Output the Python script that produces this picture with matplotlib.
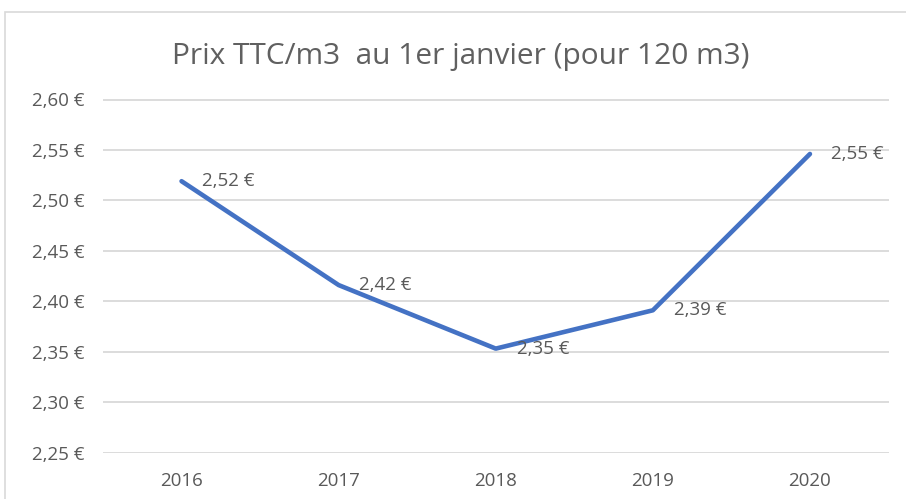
import matplotlib
matplotlib.use("Agg")
import matplotlib.pyplot as plt
from matplotlib.patches import Rectangle

years = ["2016", "2017", "2018", "2019", "2020"]
prices = [2.519, 2.416, 2.353, 2.391, 2.546]
yticks = [2.25, 2.30, 2.35, 2.40, 2.45, 2.50, 2.55, 2.60]
title = "Prix TTC/m3  au 1er janvier (pour 120 m3)"

plt.rcParams['font.family'] = ['Open Sans', 'DejaVu Sans']
TXT = '#595959'
W, H = 906, 499
fig = plt.figure(figsize=(W/100, H/100), dpi=100)
fig.patches.append(Rectangle((5/W, -0.1), 1.2, 1 - 12/H + 0.1, transform=fig.transFigure,
                             fill=False, edgecolor='#D9D9D9', linewidth=1.2))
ax = fig.add_axes([103/W, 1 - 452.5/H, (888.5-103)/W, (452.5-99.5)/H])
x = list(range(len(years)))
ax.plot(x, prices, color='#4472C4', linewidth=3.3, solid_capstyle='round', solid_joinstyle='round', zorder=3)
for xi, v in zip(x, prices):
    ax.annotate(f"{v:.2f} €".replace('.', ','), (xi, v), xytext=(15, 0), textcoords='offset points',
                ha='left', va='center', fontsize=13.5, color=TXT, zorder=4)
ax.set_xlim(-0.5, len(years) - 0.5)
ax.set_ylim(yticks[0], yticks[-1])
ax.set_yticks(yticks)
ax.set_yticklabels([f"{t:.2f} €".replace('.', ',') for t in yticks])
ax.set_xticks(x)
ax.set_xticklabels(years)
ax.grid(axis='y', color='#D9D9D9', linewidth=1.3)
ax.set_axisbelow(True)
for s in ax.spines.values():
    s.set_visible(False)
ax.tick_params(axis='both', length=0, labelsize=13.5, labelcolor=TXT)
ax.tick_params(axis='y', pad=13)
ax.tick_params(axis='x', pad=14)
fig.text(461/W, 1 - 64/H, title, ha='center', va='baseline', fontsize=21.5, color='#606060')
fig.savefig('out.png', dpi=100)
